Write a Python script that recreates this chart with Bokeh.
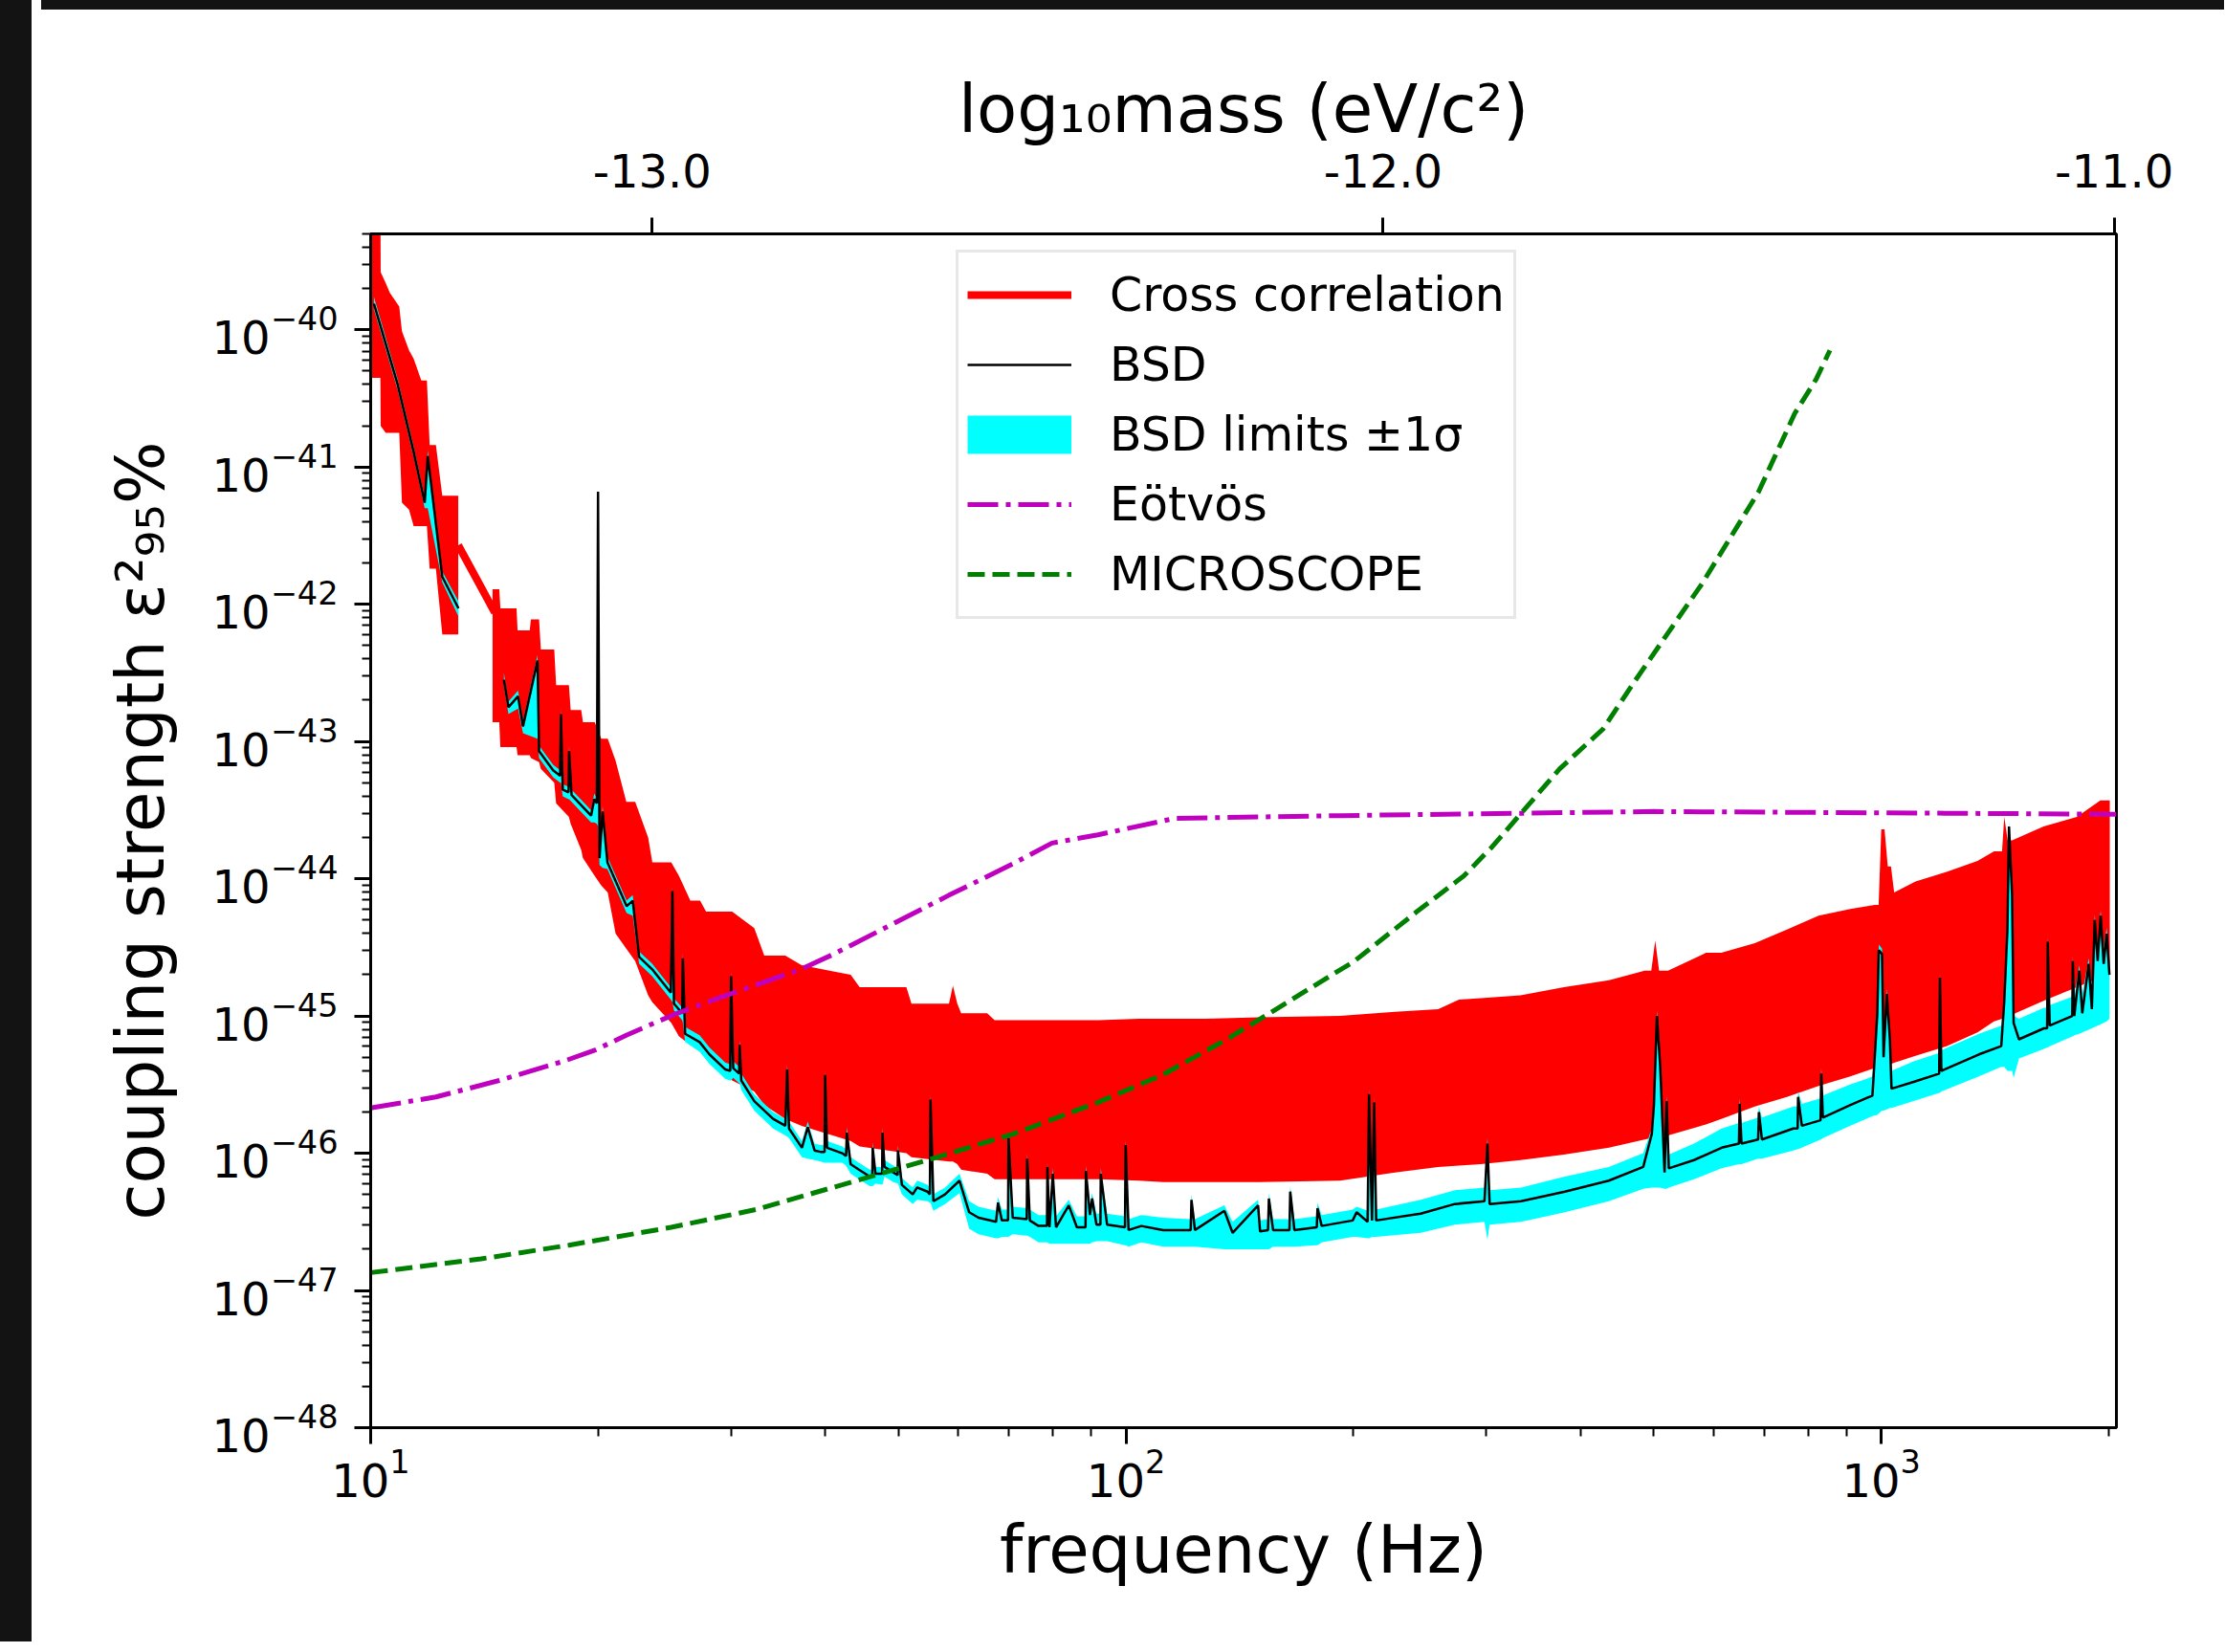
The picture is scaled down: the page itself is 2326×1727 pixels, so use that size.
import numpy as np
from bokeh.plotting import figure
from bokeh.models import (Range1d, LinearAxis, LinearScale, FixedTicker, CustomJSTickFormatter,
                          LogTickFormatter, Legend, LegendItem, Div, ColumnDataSource,
                          CDSView, IndexFilter)
from bokeh.layouts import column, row
from bokeh.embed import file_html
from bokeh.resources import INLINE

# ---------------- data (values are log10 of the coupling strength) ----------------
# Cross correlation (red), first block 10-13 Hz: envelope of the oscillating curve
cc_a_freq = [10.0, 10.3, 10.31, 10.47, 10.6, 10.91, 11.0, 11.24, 11.4, 11.67, 11.87, 11.97, 12.2, 12.44, 13.06]
cc_a_upper = [-39.0, -39.0, -39.58, -39.66, -39.73, -39.83, -40.01, -40.15, -40.21, -40.37, -40.37, -40.84, -40.84, -41.21, -41.21]
cc_a_lower = [-40.35, -40.35, -40.70, -40.75, -40.75, -40.75, -41.26, -41.31, -41.43, -41.43, -41.43, -41.74, -41.74, -42.22, -42.22]
# straight red stretch across the data gap
cc_link_freq = [13.06, 14.6]
cc_link_val = [-41.57, -42.06]
# Cross correlation, main block 14.5-2000 Hz
cc_freq = [14.5, 14.8, 14.85, 15.6, 15.65, 16.24, 16.3, 16.71, 16.8, 17.5,
           17.6, 18.3, 18.4, 19.0, 19.1, 19.8, 20.2, 20.6, 21.1, 21.8,
           22.4, 23.3, 23.6, 25.0, 25.6, 26.5, 27.3, 27.8, 30.1, 32.2,
           33.2, 35.4, 37.2, 43.2, 44.4, 51.2, 52.0, 58.3, 59.0, 59.8,
           60.5, 65.5, 67.0, 92.0, 104, 112, 127, 150, 192, 227,
           259, 276, 295, 333, 380, 436, 486, 496, 502, 508,
           522, 586, 614, 680, 750, 826, 910, 980, 992, 1000,
           1010, 1020, 1030, 1040, 1110, 1220, 1341, 1410, 1445, 1455,
           1470, 1490, 1640, 1815, 1950, 2007]
cc_upper = [-41.89, -41.89, -42.03, -42.03, -42.19, -42.19, -42.11, -42.11, -42.33, -42.33,
            -42.59, -42.59, -42.77, -42.77, -42.86, -42.86, -42.98, -42.98, -43.14, -43.44,
            -43.44, -43.70, -43.88, -43.88, -43.98, -44.16, -44.16, -44.24, -44.24, -44.36,
            -44.56, -44.56, -44.63, -44.70, -44.79, -44.79, -44.91, -44.91, -44.78, -44.91,
            -44.98, -44.98, -45.03, -45.03, -45.02, -45.02, -45.02, -45.01, -45.00, -44.97,
            -44.95, -44.88, -44.87, -44.85, -44.79, -44.74, -44.67, -44.67, -44.45, -44.67,
            -44.67, -44.54, -44.54, -44.47, -44.37, -44.27, -44.22, -44.19, -44.19, -43.64,
            -43.64, -43.91, -43.91, -44.10, -44.02, -43.95, -43.87, -43.80, -43.80, -43.55,
            -43.72, -43.72, -43.62, -43.55, -43.43, -43.43]
cc_lower = [-42.86, -42.86, -43.04, -43.04, -43.10, -43.10, -43.12, -43.15, -43.20, -43.30,
            -43.45, -43.55, -43.60, -43.79, -43.85, -43.98, -44.05, -44.10, -44.40, -44.51,
            -44.60, -44.85, -44.90, -45.05, -45.15, -45.21, -45.25, -45.30, -45.47, -45.55,
            -45.65, -45.75, -45.80, -45.91, -45.95, -46.00, -46.03, -46.06, -46.06, -46.08,
            -46.12, -46.15, -46.19, -46.19, -46.20, -46.21, -46.21, -46.21, -46.20, -46.14,
            -46.10, -46.09, -46.08, -46.05, -46.01, -45.96, -45.90, -45.89, -45.89, -45.88,
            -45.87, -45.79, -45.75, -45.66, -45.59, -45.51, -45.44, -45.38, -45.37, -45.36,
            -45.36, -45.35, -45.35, -45.34, -45.29, -45.22, -45.12, -45.04, -45.02, -45.01,
            -45.00, -44.99, -44.89, -44.79, -44.72, -44.66]

# BSD (black) and its +-1 sigma limits (cyan), first block
bsd_a_freq = [10.1, 10.86, 11.4, 11.79, 11.9, 12.44, 13.07]
bsd_a_val = [-39.81, -40.40, -40.89, -41.26, -40.92, -41.80, -42.03]
bsd_a_lo = [-39.85, -40.44, -40.93, -41.30, -41.30, -41.84, -42.09]
bsd_a_hi = [-39.76, -40.36, -40.85, -41.22, -40.88, -41.76, -41.98]

# BSD main block
bsd_freq = [15.01, 15.22, 15.67, 15.91, 16.63, 16.71, 17.44, 17.82, 17.86, 17.96,
            18.28, 18.31, 18.45, 19.58, 19.77, 19.93, 20.0, 20.09, 20.28, 20.58,
            21.82, 22.23, 22.67, 23.59, 24.97, 25.09, 25.21, 25.85, 25.9, 26.08,
            27.26, 28.09, 29.49, 29.93, 30.0, 30.2, 30.75, 30.8, 30.95, 32.2,
            34.1, 35.4, 35.6, 35.8, 37.24, 37.9, 38.7, 39.4, 39.9, 39.96,
            40.2, 42.1, 42.6, 42.7, 43.2, 44.3, 45.8, 46.15, 46.2, 46.6,
            47.55, 47.6, 47.9, 49.2, 49.85, 49.9, 50.5, 52.2, 52.9, 54.6,
            55.0, 55.1, 55.6, 57.6, 60.2, 62.0, 63.8, 67.3, 67.7, 68.5,
            69.8, 69.9, 70.8, 73.9, 74.0, 74.6, 76.6, 78.6, 78.7, 79.2,
            80.0, 80.8, 84.0, 86.1, 88.4, 88.5, 89.6, 90.2, 91.4, 92.5,
            92.6, 94.4, 99.7, 99.9, 100.8, 104.8, 112.0, 121.8, 122.1, 123.4,
            135.0, 138.4, 149.6, 150.5, 154.2, 154.6, 156.6, 164.6, 165.0, 167.1,
            178.9, 179.3, 181.6, 199.6, 202.0, 208.9, 209.8, 211.7, 213.1, 214.4,
            245.6, 272.6, 298.3, 301.0, 303.0, 333.5, 381.2, 435.8, 484.0, 496.8,
            500.0, 504.6, 509.7, 516.5, 519.7, 523.2, 565.0, 614.8, 648.0, 649.4,
            653.0, 687.0, 688.6, 695.0, 764.8, 775.0, 776.0, 785.0, 831.0, 832.8,
            836.9, 909.0, 954.6, 973.4, 987.8, 992.5, 1002.3, 1007.0, 1017.0, 1026.6,
            1031.7, 1103.8, 1193.0, 1195.8, 1201.0, 1346.7, 1441.5, 1455.0, 1469.0, 1476.0,
            1490.0, 1497.0, 1521.6, 1642.0, 1658.0, 1661.0, 1671.0, 1790.0, 1793.0, 1801.0,
            1829.0, 1845.5, 1882.0, 1900.0, 1917.0, 1934.0, 1952.0, 1970.0, 1988.0, 2005.0]
bsd_val = [-42.55, -42.75, -42.67, -42.89, -42.41, -43.07, -43.21, -43.25, -42.80, -43.35,
           -43.37, -43.07, -43.39, -43.54, -43.42, -43.45, -41.18, -43.85, -43.51, -43.88,
           -44.20, -44.16, -44.57, -44.66, -44.83, -44.09, -44.91, -44.98, -44.58, -45.13,
           -45.19, -45.28, -45.39, -45.40, -44.71, -45.38, -45.42, -45.21, -45.47, -45.62,
           -45.75, -45.80, -45.39, -45.82, -45.96, -45.81, -45.98, -45.99, -45.99, -45.43,
           -45.96, -46.00, -46.02, -45.85, -46.08, -46.12, -46.17, -46.17, -45.96, -46.15,
           -46.15, -45.85, -46.10, -46.14, -46.16, -45.98, -46.23, -46.30, -46.25, -46.28,
           -46.30, -45.61, -46.35, -46.30, -46.20, -46.43, -46.47, -46.50, -46.36, -46.49,
           -46.49, -45.89, -46.47, -46.48, -46.04, -46.49, -46.53, -46.53, -46.10, -46.54,
           -46.15, -46.54, -46.38, -46.54, -46.54, -46.13, -46.45, -46.33, -46.52, -46.52,
           -46.15, -46.52, -46.54, -45.94, -46.56, -46.53, -46.56, -46.56, -46.34, -46.56,
           -46.42, -46.58, -46.38, -46.57, -46.56, -46.33, -46.56, -46.56, -46.28, -46.56,
           -46.54, -46.40, -46.53, -46.49, -46.43, -46.50, -45.57, -46.49, -45.63, -46.49,
           -46.44, -46.37, -46.35, -45.93, -46.37, -46.35, -46.28, -46.20, -46.10, -45.86,
           -45.65, -45.00, -45.37, -46.14, -45.62, -46.11, -46.05, -45.96, -45.93, -45.64,
           -45.93, -45.90, -45.70, -45.90, -45.82, -45.82, -45.59, -45.80, -45.76, -45.42,
           -45.74, -45.65, -45.60, -45.58, -44.99, -44.52, -44.55, -45.30, -44.84, -45.17,
           -45.53, -45.48, -45.42, -44.72, -45.40, -45.28, -45.22, -44.89, -44.37, -43.62,
           -44.12, -45.05, -45.17, -45.09, -45.09, -44.46, -45.07, -45.00, -44.60, -45.00,
           -44.67, -44.98, -44.62, -44.95, -44.30, -44.60, -44.27, -44.62, -44.40, -44.70]
bsd_lo = [-42.60, -42.80, -42.76, -42.94, -42.98, -43.12, -43.26, -43.30, -43.30, -43.40,
          -43.42, -43.42, -43.44, -43.59, -43.59, -43.60, -43.62, -43.90, -43.92, -43.93,
          -44.25, -44.27, -44.62, -44.71, -44.88, -44.90, -44.96, -45.03, -45.05, -45.19,
          -45.26, -45.35, -45.46, -45.47, -45.47, -45.45, -45.49, -45.49, -45.54, -45.69,
          -45.82, -45.87, -45.88, -45.89, -46.03, -46.04, -46.05, -46.06, -46.07, -46.07,
          -46.07, -46.07, -46.09, -46.10, -46.15, -46.19, -46.24, -46.24, -46.24, -46.22,
          -46.23, -46.23, -46.17, -46.21, -46.22, -46.22, -46.30, -46.37, -46.34, -46.35,
          -46.36, -46.36, -46.42, -46.37, -46.29, -46.55, -46.59, -46.62, -46.62, -46.61,
          -46.61, -46.61, -46.59, -46.60, -46.60, -46.61, -46.65, -46.65, -46.65, -46.66,
          -46.66, -46.66, -46.66, -46.66, -46.66, -46.66, -46.66, -46.65, -46.64, -46.64,
          -46.64, -46.64, -46.67, -46.67, -46.68, -46.65, -46.68, -46.68, -46.68, -46.68,
          -46.70, -46.70, -46.70, -46.70, -46.70, -46.70, -46.68, -46.68, -46.68, -46.68,
          -46.67, -46.67, -46.65, -46.61, -46.61, -46.62, -46.62, -46.61, -46.61, -46.61,
          -46.58, -46.52, -46.50, -46.63, -46.52, -46.50, -46.43, -46.35, -46.26, -46.25,
          -46.25, -46.25, -46.25, -46.26, -46.26, -46.25, -46.19, -46.11, -46.08, -46.08,
          -46.08, -46.04, -46.04, -46.04, -45.98, -45.97, -45.97, -45.96, -45.90, -45.90,
          -45.89, -45.80, -45.75, -45.73, -45.72, -45.71, -45.69, -45.69, -45.68, -45.67,
          -45.67, -45.62, -45.56, -45.56, -45.55, -45.44, -45.37, -45.37, -45.40, -45.40,
          -45.40, -45.45, -45.31, -45.24, -45.23, -45.23, -45.22, -45.15, -45.15, -45.14,
          -45.13, -45.12, -45.10, -45.09, -45.08, -45.07, -45.06, -45.05, -45.04, -45.02]
bsd_hi = [-42.50, -42.71, -42.63, -42.85, -42.37, -43.03, -43.17, -43.21, -42.76, -43.31,
          -43.33, -43.03, -43.35, -43.50, -43.38, -43.41, -41.14, -43.81, -43.47, -43.84,
          -44.16, -44.12, -44.53, -44.62, -44.79, -44.05, -44.87, -44.94, -44.54, -45.08,
          -45.14, -45.23, -45.34, -45.35, -44.67, -45.33, -45.37, -45.17, -45.42, -45.57,
          -45.70, -45.75, -45.35, -45.77, -45.91, -45.77, -45.93, -45.94, -45.94, -45.39,
          -45.91, -45.95, -45.97, -45.81, -46.03, -46.07, -46.12, -46.12, -45.92, -46.10,
          -46.10, -45.81, -46.05, -46.09, -46.11, -45.94, -46.18, -46.25, -46.20, -46.23,
          -46.25, -45.57, -46.30, -46.25, -46.15, -46.35, -46.39, -46.42, -46.32, -46.41,
          -46.41, -45.85, -46.39, -46.40, -46.00, -46.41, -46.45, -46.45, -46.06, -46.46,
          -46.11, -46.46, -46.34, -46.46, -46.46, -46.09, -46.37, -46.29, -46.44, -46.44,
          -46.11, -46.44, -46.46, -45.90, -46.48, -46.45, -46.47, -46.48, -46.30, -46.48,
          -46.38, -46.50, -46.34, -46.49, -46.48, -46.29, -46.48, -46.48, -46.24, -46.48,
          -46.46, -46.36, -46.45, -46.41, -46.39, -46.42, -45.53, -46.41, -45.59, -46.41,
          -46.34, -46.27, -46.25, -45.89, -46.27, -46.25, -46.17, -46.10, -46.00, -45.82,
          -45.61, -44.96, -45.33, -46.04, -45.58, -46.01, -45.93, -45.82, -45.78, -45.60,
          -45.78, -45.74, -45.66, -45.74, -45.66, -45.66, -45.55, -45.64, -45.60, -45.38,
          -45.58, -45.50, -45.46, -45.44, -44.95, -44.48, -44.51, -45.26, -44.80, -45.13,
          -45.40, -45.33, -45.27, -44.68, -45.25, -45.13, -45.07, -44.85, -44.33, -43.58,
          -44.08, -45.00, -45.02, -44.94, -44.94, -44.42, -44.92, -44.86, -44.56, -44.86,
          -44.63, -44.84, -44.58, -44.81, -44.26, -44.50, -44.23, -44.50, -44.36, -44.60]

# Eötvös (magenta dash-dot)
eot_freq = [10.0, 12.2, 14.8, 18.0, 19.8, 21.8, 25.2, 29.2, 37.1, 41.0,
            47.9, 58.3, 70.9, 79.8, 91.8, 116.0, 193.0, 500.0, 1000.0, 2048.0]
eot_val = [-45.67, -45.59, -45.47, -45.33, -45.25, -45.14, -44.99, -44.86, -44.66, -44.55,
           -44.36, -44.12, -43.89, -43.74, -43.68, -43.56, -43.54, -43.51, -43.52, -43.53]

# MICROSCOPE (green dashed)
mic_freq = [10.0, 14.0, 18.3, 25.0, 32.4, 42.1, 54.6, 70.9, 91.8, 111.7,
            136.0, 154.9, 192.6, 199.6, 242.7, 280.0, 305.0, 375.0, 428.0, 469.0,
            579.0, 688.0, 768.0, 820.0, 855.0]
mic_val = [-46.87, -46.77, -46.67, -46.54, -46.41, -46.23, -46.05, -45.86, -45.63, -45.43,
           -45.17, -44.98, -44.66, -44.61, -44.24, -43.98, -43.77, -43.20, -42.91, -42.58,
           -41.85, -41.18, -40.61, -40.36, -40.15]

for a, b in ((cc_a_freq, cc_a_upper), (cc_a_freq, cc_a_lower), (cc_freq, cc_upper), (cc_freq, cc_lower),
             (bsd_freq, bsd_val), (bsd_freq, bsd_lo), (bsd_freq, bsd_hi), (eot_freq, eot_val),
             (mic_freq, mic_val)):
    assert len(a) == len(b), (len(a), len(b))

# axes
x_major_ticks = [10, 100, 1000]
x_minor_mult = [2, 3, 4, 5, 6, 7, 8, 9]
y_major_exp = [-48, -47, -46, -45, -44, -43, -42, -41, -40]
mass_ticks = [-13.0, -12.0, -11.0]
mass_axis_range = (-13.385, -10.997)
freq_range = (10, 2048)
coupling_range = (1e-48, 5e-40)


def p10(a):
    return 10.0 ** np.asarray(a, dtype=float)


FONT = "DejaVu Sans"
W, H = 2282, 1704
TOP_BAND, LEFT_BAND = 13, 36

p = figure(width=W, height=H, x_axis_type="log", y_axis_type="log",
           x_range=Range1d(*freq_range), y_range=Range1d(*coupling_range),
           output_backend="svg", toolbar_location=None,
           min_border_left=349, min_border_right=108, min_border_top=229, min_border_bottom=227)
p.background_fill_color = "white"
p.border_fill_color = "white"
p.outline_line_color = "black"
p.outline_line_width = 3
p.grid.visible = False

x_minor = [m * 10.0 ** e for e in (1, 2) for m in x_minor_mult] + [2000.0]
y_minor = [m * 10.0 ** e for e in y_major_exp[:-1] for m in x_minor_mult] + [m * 1e-40 for m in (2, 3, 4, 5)]

xa = p.xaxis[0]
xa.ticker = FixedTicker(ticks=x_major_ticks, minor_ticks=x_minor)
xa.formatter = LogTickFormatter()
ya = p.yaxis[0]
ya.ticker = FixedTicker(ticks=[10.0 ** e for e in y_major_exp], minor_ticks=y_minor)
ya.formatter = LogTickFormatter()

p.extra_x_ranges = {"mass": Range1d(*mass_axis_range)}
p.extra_x_scales = {"mass": LinearScale()}
ta = LinearAxis(x_range_name="mass", ticker=FixedTicker(ticks=mass_ticks),
                formatter=CustomJSTickFormatter(code="return tick.toFixed(1);"))
p.add_layout(ta, "above")

for ax, standoff in ((xa, 4), (ya, 17), (ta, 32)):
    ax.axis_line_width = 3
    ax.axis_line_color = "black"
    ax.major_tick_line_width = 3
    ax.major_tick_out = 17
    ax.major_tick_in = 0
    ax.minor_tick_line_width = 2
    ax.minor_tick_out = 9
    ax.minor_tick_in = 0
    ax.major_label_text_font = FONT
    ax.major_label_text_font_size = "48px"
    ax.major_label_text_color = "black"
    ax.major_label_standoff = standoff
    ax.axis_label_text_font = FONT
    ax.axis_label_text_font_size = "69px"
    ax.axis_label_text_font_style = "normal"
    ax.axis_label_text_color = "black"
ta.minor_tick_line_color = None

xa.axis_label = "frequency (Hz)"
xa.axis_label_standoff = 12
ya.axis_label = "coupling strength ε²₉₅%"
ya.axis_label_standoff = 32
ta.axis_label = "log₁₀mass (eV/c²)"
ta.axis_label_standoff = 4

# ---------------- glyphs ----------------
r_red_a = p.varea(x=cc_a_freq, y1=p10(cc_a_lower), y2=p10(cc_a_upper), fill_color="#ff0000")
r_red_link = p.line(x=cc_link_freq, y=p10(cc_link_val), line_color="#ff0000", line_width=8)
r_red = p.varea(x=cc_freq, y1=p10(cc_lower), y2=p10(cc_upper), fill_color="#ff0000")

r_cy_a = p.varea(x=bsd_a_freq, y1=p10(bsd_a_lo), y2=p10(bsd_a_hi), fill_color="#00ffff")
r_cy = p.varea(x=bsd_freq, y1=p10(bsd_lo), y2=p10(bsd_hi), fill_color="#00ffff")
r_bsd_a = p.line(x=bsd_a_freq, y=p10(bsd_a_val), line_color="black", line_width=2.5)
r_bsd = p.line(x=bsd_freq, y=p10(bsd_val), line_color="black", line_width=2.5)

r_eot = p.line(x=eot_freq, y=p10(eot_val), line_color="#bf00bf", line_width=5, line_dash="32 8 5 8")
r_mic = p.line(x=mic_freq, y=p10(mic_val), line_color="#008000", line_width=5, line_dash="18 8")

# legend key for the sigma band: a wide cyan stroke, drawn in the legend only
sig_src = ColumnDataSource(dict(f=bsd_freq, v=p10(bsd_val)))
r_cy_key = p.line(x="f", y="v", source=sig_src, view=CDSView(filter=IndexFilter(indices=[0])),
                  line_color="#00ffff", line_width=40)

legend = Legend(items=[
    LegendItem(label="Cross correlation", renderers=[r_red_link]),
    LegendItem(label="BSD", renderers=[r_bsd]),
    LegendItem(label="BSD limits ±1σ", renderers=[r_cy_key]),
    LegendItem(label="Eötvös", renderers=[r_eot]),
    LegendItem(label="MICROSCOPE", renderers=[r_mic]),
], location=(612, 845))
legend.label_text_font = FONT
legend.label_text_font_size = "49px"
legend.label_text_color = "black"
legend.glyph_width = 109
legend.glyph_height = 70
legend.label_height = 70
legend.spacing = 3
legend.padding = 9
legend.margin = 0
legend.label_standoff = 40
legend.border_line_color = "#d0d0d0"
legend.border_line_width = 3
legend.background_fill_color = "white"
legend.background_fill_alpha = 1.0
p.add_layout(legend)

# dark page frame (top and left bands of the reference)
left_bar = Div(text="", width=LEFT_BAND, height=1719, styles={"background-color": "#131313"})
top_bar = Div(text="", width=W, height=TOP_BAND, styles={"background-color": "#131313"})
page = row(left_bar, column(top_bar, p, spacing=0), spacing=0,
           styles={"margin-top": "-8px", "margin-left": "-8px"})

open("out.html", "w").write(file_html(page, INLINE))
